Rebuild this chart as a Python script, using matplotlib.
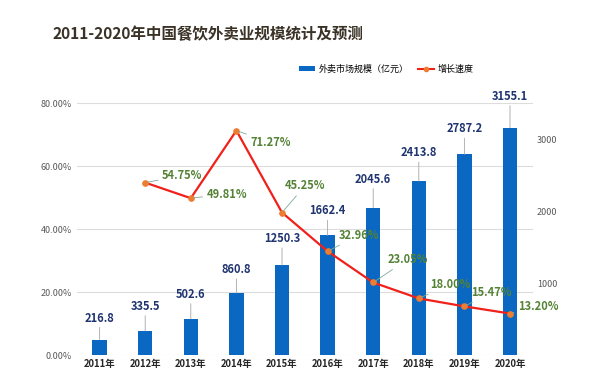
import matplotlib
matplotlib.use("Agg")
import matplotlib.pyplot as plt
from matplotlib.patches import Patch
from matplotlib.lines import Line2D

plt.rcParams['font.family'] = ['Noto Sans CJK SC', 'DejaVu Sans']

years = ['2011年', '2012年', '2013年', '2014年', '2015年', '2016年', '2017年', '2018年', '2019年', '2020年']
market = [216.8, 335.5, 502.6, 860.8, 1250.3, 1662.4, 2045.6, 2413.8, 2787.2, 3155.1]
growth = [None, 54.75, 49.81, 71.27, 45.25, 32.96, 23.05, 18.00, 15.47, 13.20]
pct_ticks = [0, 20, 40, 60, 80]
val_ticks = [1000, 2000, 3000]
# label offsets (pixels) for growth labels
g_off = [None, (17, 7), (16, 4), (14, -12), (3, 27), (11, 16), (14, 23), (11, 14), (7, 14), (8, 7)]
b_off = [15, 18, 18, 17, 20, 18, 22, 22, 19, 25]

BLUE = '#0a68c2'
RED = '#f0201a'
GREEN = '#548235'
NAVY = '#1f3470'

fig = plt.figure(figsize=(6, 3.86), dpi=100)
ax = fig.add_axes([0.128, 0.080, 0.760, 0.653])
ax2 = ax.twinx()
x = list(range(len(years)))

ax.bar(x, market, width=0.32, color=BLUE, zorder=2)
ax.set_xlim(-0.5, len(years) - 0.5)
ax.set_ylim(0, 3500)
ax.yaxis.tick_right()
ax.yaxis.set_label_position('right')
ax.set_yticks(val_ticks)
ax.set_yticklabels([str(v) for v in val_ticks], fontsize=6.5, color='#595959')
ax.set_yticks([p / 80 * 3500 for p in pct_ticks], minor=True)
ax.grid(which='minor', axis='y', color='#dcdcdc', lw=0.8)
ax.set_axisbelow(True)
ax.tick_params(axis='y', which='both', length=0, pad=3)
ax.set_xticks(x)
ax.set_xticklabels(years, fontsize=6.8, fontweight='bold', color='#262626')
ax.tick_params(axis='x', length=0, pad=3)
for s in ax.spines.values():
    s.set_visible(False)

for i, v in enumerate(market):
    ax.annotate(f'{v:.1f}', xy=(i, v), xytext=(0, b_off[i]), textcoords='offset pixels',
                ha='center', va='bottom', fontsize=8, fontweight='bold', color=NAVY,
                arrowprops=dict(arrowstyle='-', color='#a6a6a6', lw=0.6, shrinkA=0, shrinkB=0))

ax2.set_ylim(0, 80)
ax2.yaxis.tick_left()
ax2.yaxis.set_label_position('left')
ax2.set_yticks(pct_ticks)
ax2.set_yticklabels([f'{p:.2f}%' for p in pct_ticks], fontsize=6.5, color='#595959')
ax2.tick_params(axis='y', length=0, pad=3.5)
for s in ax2.spines.values():
    s.set_visible(False)

gx = [i for i, g in enumerate(growth) if g is not None]
gy = [g for g in growth if g is not None]
ax2.plot(gx, gy, color=RED, lw=1.6, marker='o', markersize=3.8,
         markerfacecolor='#ed7d31', markeredgecolor='#ed7d31', zorder=3)
for i in gx:
    g = growth[i]
    dx, dy = g_off[i]
    ax2.annotate(f'{g:.2f}%', xy=(i, g), xytext=(dx, dy), textcoords='offset pixels',
                 ha='left', va='center', fontsize=8, fontweight='bold', color=GREEN,
                 arrowprops=dict(arrowstyle='-', color='#7fa89a', lw=0.6, shrinkA=1, shrinkB=2))

fig.text(0.087, 0.912, '2011-2020年中国餐饮外卖业规模统计及预测', fontsize=11.2, fontweight='bold',
         color='#3a3226', ha='left', va='center')

handles = [Patch(facecolor=BLUE, edgecolor='none'),
           Line2D([0], [0], color=RED, lw=1.5, marker='o', markersize=3,
                  markerfacecolor='#ed7d31', markeredgecolor='#ed7d31')]
fig.legend(handles, ['外卖市场规模（亿元）', '增长速度'], loc='center',
           bbox_to_anchor=(0.644, 0.821), ncol=2, frameon=False, fontsize=6.5,
           handlelength=1.7, handleheight=0.6, columnspacing=1.1, handletextpad=0.4)

fig.savefig('out.png', dpi=100, facecolor='white')
